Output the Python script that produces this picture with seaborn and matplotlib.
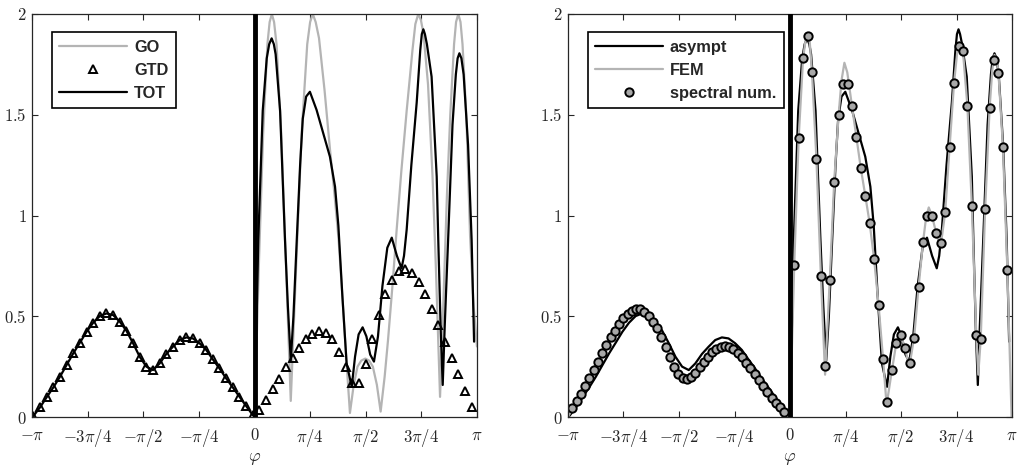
import numpy as np
import matplotlib
matplotlib.use("Agg")
import matplotlib.pyplot as plt
import seaborn as sns

sns.set_style("ticks")
plt.rcParams["mathtext.fontset"] = "cm"
plt.rcParams["font.family"] = ["DejaVu Serif"]

# all angles are given in units of pi
# ---- left panel: GO / GTD / TOT ----
gtd_neg_x = np.linspace(-0.994, -0.008, 34)
gtd_neg = [0.005, 0.048, 0.098, 0.147, 0.2, 0.258, 0.316, 0.369, 0.423, 0.468,
           0.501, 0.514, 0.506, 0.473, 0.428, 0.366, 0.299, 0.25, 0.233, 0.266,
           0.313, 0.349, 0.382, 0.395, 0.39, 0.366, 0.333, 0.286, 0.241, 0.192,
           0.147, 0.101, 0.055, 0.01]
gtd_pos_x = np.linspace(0.022, 0.976, 33)
gtd_pos = [0.035, 0.084, 0.137, 0.189, 0.247, 0.295, 0.344, 0.385, 0.412, 0.428,
           0.418, 0.385, 0.324, 0.25, 0.167, 0.167, 0.263, 0.386, 0.506, 0.61,
           0.68, 0.726, 0.733, 0.716, 0.672, 0.61, 0.534, 0.457, 0.374, 0.291,
           0.212, 0.129, 0.051]

go_x = [0.0, 0.02, 0.039, 0.058, 0.068, 0.078, 0.088, 0.099, 0.12, 0.141, 0.163,
        0.188, 0.212, 0.237, 0.25, 0.262, 0.275, 0.29, 0.315, 0.34, 0.36, 0.378,
        0.395, 0.412, 0.429,
        0.446, 0.463, 0.48, 0.498, 0.515, 0.532, 0.55, 0.567,
        0.585, 0.6, 0.62, 0.639, 0.66, 0.684, 0.71, 0.723, 0.736, 0.748,
        0.76, 0.78, 0.8, 0.815, 0.834,
        0.85, 0.865, 0.88, 0.897, 0.906, 0.916, 0.926,
        0.935, 0.952, 0.969, 0.985, 1.0]
go = [0.0, 0.77, 1.41, 1.85, 1.96, 2.0, 1.96, 1.85, 1.41, 0.77, 0.08,
      0.77, 1.41, 1.85, 1.96, 2.0, 1.96, 1.88, 1.62, 1.32, 1.1, 0.88,
      0.6, 0.3, 0.02,
      0.16, 0.25, 0.28, 0.29, 0.28, 0.25, 0.16, 0.027,
      0.2, 0.38, 0.65, 0.93, 1.22, 1.52, 1.82, 1.95, 2.0, 1.97,
      1.9, 1.65, 1.2, 0.75, 0.10,
      0.6, 1.1, 1.5, 1.85, 1.96, 2.0, 1.96,
      1.85, 1.5, 0.9, 0.55, 0.35]

tot_pos_x = [0.0, 0.017, 0.037, 0.055, 0.066, 0.077, 0.087, 0.095, 0.115, 0.137,
             0.15, 0.163, 0.175, 0.19, 0.205, 0.217, 0.232, 0.249, 0.279, 0.309,
             0.339, 0.362, 0.377, 0.395, 0.414, 0.437, 0.452, 0.468, 0.486, 0.503,
             0.52, 0.537, 0.555, 0.575, 0.597, 0.617, 0.64, 0.661, 0.672, 0.684,
             0.705, 0.729, 0.745, 0.752, 0.759, 0.766, 0.775, 0.796, 0.819, 0.826,
             0.837, 0.846, 0.855, 0.871, 0.89, 0.905, 0.913, 0.921, 0.93, 0.94,
             0.96, 0.976, 0.987]
tot_pos = [0.0, 0.88, 1.52, 1.78, 1.85, 1.879, 1.85, 1.8, 1.52, 0.88,
           0.55, 0.28, 0.5, 0.88, 1.25, 1.48, 1.59, 1.614, 1.524, 1.408,
           1.292, 1.143, 0.95, 0.6, 0.266, 0.15, 0.3, 0.41, 0.445, 0.4,
           0.31, 0.275, 0.4, 0.65, 0.84, 0.89, 0.8, 0.738, 0.8, 0.93,
           1.25, 1.56, 1.82, 1.9, 1.924, 1.9, 1.85, 1.689, 1.193, 0.878,
           0.43, 0.159, 0.45, 0.9, 1.45, 1.7, 1.78, 1.805, 1.78, 1.7,
           1.35, 0.878, 0.374]

# ---- right panel: spectral / FEM ----
spec_neg_x = np.linspace(-0.98, -0.026, 51)
spec_neg = [0.043, 0.081, 0.114, 0.154, 0.192, 0.233, 0.275, 0.316, 0.357, 0.395,
            0.428, 0.461, 0.49, 0.511, 0.528, 0.536, 0.534, 0.523, 0.501, 0.473,
            0.44, 0.399, 0.349, 0.296, 0.25, 0.213, 0.192, 0.187, 0.197, 0.22,
            0.247, 0.275, 0.3, 0.321, 0.337, 0.349, 0.352, 0.349, 0.337, 0.319,
            0.296, 0.27, 0.242, 0.213, 0.184, 0.154, 0.123, 0.093, 0.068, 0.048,
            0.026]
spec_pos_x = np.linspace(0.019, 0.979, 49)
spec_pos = [0.754, 1.384, 1.781, 1.892, 1.710, 1.281, 0.701, 0.252, 0.679, 1.168,
            1.50, 1.654, 1.654, 1.544, 1.389, 1.234, 1.099, 0.961, 0.782, 0.555,
            0.29, 0.075, 0.232, 0.368, 0.406, 0.34, 0.268, 0.394, 0.643, 0.867,
            0.998, 0.998, 0.911, 0.862, 1.016, 1.342, 1.66, 1.843, 1.814, 1.544,
            1.049, 0.409, 0.386, 1.032, 1.533, 1.773, 1.707, 1.342, 0.732]

fem_neg = [0.043, 0.081, 0.114, 0.154, 0.192, 0.233, 0.275, 0.316, 0.357, 0.395,
           0.428, 0.461, 0.49, 0.511, 0.528, 0.536, 0.534, 0.523, 0.501, 0.473,
           0.44, 0.399, 0.349, 0.296, 0.25, 0.21, 0.183, 0.168, 0.18, 0.21,
           0.245, 0.275, 0.3, 0.321, 0.337, 0.349, 0.352, 0.349, 0.337, 0.319,
           0.296, 0.27, 0.242, 0.213, 0.184, 0.154, 0.123, 0.093, 0.068, 0.048,
           0.026]
fem_pos_x = [0.0, 0.019, 0.039, 0.059, 0.07, 0.079, 0.089, 0.099, 0.119, 0.139,
             0.158, 0.179, 0.199, 0.219, 0.232, 0.245, 0.258, 0.279, 0.299, 0.319,
             0.339, 0.359, 0.379, 0.399, 0.419, 0.435, 0.449, 0.459, 0.479, 0.49,
             0.499, 0.519, 0.535, 0.545, 0.559, 0.579, 0.599, 0.613, 0.625, 0.639,
             0.659, 0.672, 0.685, 0.699, 0.719, 0.739, 0.755, 0.766, 0.779, 0.799,
             0.819, 0.839, 0.848, 0.859, 0.879, 0.899, 0.911, 0.921, 0.932, 0.939,
             0.959, 0.979, 0.998]
fem_pos = [0.0, 0.754, 1.384, 1.781, 1.87, 1.90, 1.86, 1.71, 1.281, 0.701,
           0.21, 0.679, 1.168, 1.50, 1.67, 1.758, 1.71, 1.544, 1.389, 1.234,
           1.099, 0.961, 0.782, 0.555, 0.29, 0.06, 0.16, 0.232, 0.368, 0.415,
           0.406, 0.34, 0.255, 0.3, 0.394, 0.643, 0.867, 0.99, 1.04, 1.0,
           0.911, 0.86, 0.9, 1.016, 1.342, 1.66, 1.83, 1.86, 1.814, 1.544,
           1.049, 0.409, 0.21, 0.386, 1.032, 1.533, 1.72, 1.797, 1.77, 1.707,
           1.342, 0.732, 0.0]

xticks = [-1, -0.75, -0.5, -0.25, 0, 0.25, 0.5, 0.75, 1]
xticklabels = [r"$-\pi$", r"$-3\pi/4$", r"$-\pi/2$", r"$-\pi/4$", r"$0$",
               r"$\pi/4$", r"$\pi/2$", r"$3\pi/4$", r"$\pi$"]
yticks = [0, 0.5, 1, 1.5, 2]
yticklabels = [r"$0$", r"$0.5$", r"$1$", r"$1.5$", r"$2$"]

GREY = "#b4b4b4"
pi = np.pi

fig = plt.figure(figsize=(10.17, 4.65), dpi=100)
ax1 = fig.add_axes([0.0315, 0.1032, 0.4375, 0.8667])
ax2 = fig.add_axes([0.5585, 0.1032, 0.4366, 0.8667])

# left
tot_x = np.concatenate([gtd_neg_x, tot_pos_x]) * pi
tot_y = np.concatenate([gtd_neg, tot_pos])
gtd_x = np.concatenate([gtd_neg_x, gtd_pos_x]) * pi
gtd_y = np.concatenate([gtd_neg, gtd_pos])
sns.lineplot(x=np.array(go_x) * pi, y=go, ax=ax1, color=GREY, linewidth=1.6,
             sort=False, estimator=None, label="GO")
sns.lineplot(x=gtd_x, y=gtd_y, ax=ax1, color="k", linestyle="none", marker="^",
             markersize=6, markerfacecolor="none", markeredgecolor="k",
             markeredgewidth=1.4, sort=False, estimator=None, label="GTD")
sns.lineplot(x=tot_x, y=tot_y, ax=ax1, color="k", linewidth=1.6,
             sort=False, estimator=None, label="TOT")

# right
fem_x = np.concatenate([[-1.0], spec_neg_x, [0.0], fem_pos_x]) * pi
fem_y = np.concatenate([[0.0], fem_neg, [0.0], fem_pos])
spec_x = np.concatenate([spec_neg_x, spec_pos_x]) * pi
spec_y = np.concatenate([spec_neg, spec_pos])
sns.lineplot(x=tot_x, y=tot_y, ax=ax2, color="k", linewidth=1.6,
             sort=False, estimator=None, label="asympt")
sns.lineplot(x=fem_x, y=fem_y, ax=ax2, color=GREY, linewidth=1.6,
             sort=False, estimator=None, label="FEM")
sns.lineplot(x=spec_x, y=spec_y, ax=ax2, color="k", linestyle="none", marker="o",
             markersize=6, markerfacecolor="#a8a8a8", markeredgecolor="k",
             markeredgewidth=1.4, sort=False, estimator=None, label="spectral num.")

for ax in (ax1, ax2):
    ax.axvline(0, color="k", linewidth=3.5, zorder=5)
    ax.set_xlim(-pi, pi)
    ax.set_ylim(0, 2)
    ax.set_xticks(np.array(xticks) * pi)
    ax.set_xticklabels(xticklabels)
    ax.set_yticks(yticks)
    ax.set_yticklabels(yticklabels, va="center_baseline")
    ax.tick_params(direction="in", top=True, right=True, length=4, width=0.8,
                   color="#262626", labelsize=12)
    ax.tick_params(axis="x", pad=7)
    ax.tick_params(axis="y", pad=4)
    for s in ax.spines.values():
        s.set_linewidth(0.9)
        s.set_color("#262626")
    ax.set_xlabel(r"$\varphi$", fontsize=13, labelpad=0)
    ax.set_ylabel("")
    leg = ax.legend(loc="upper left", bbox_to_anchor=(0.045, 0.955), borderaxespad=0,
                    fancybox=False, framealpha=1, edgecolor="k",
                    handlelength=4.15, handletextpad=0.4, labelspacing=0.5,
                    borderpad=0.45,
                    prop={"family": "Liberation Sans", "weight": "bold", "size": 11.8})
    leg.get_frame().set_linewidth(1.2)

fig.savefig("out.png", dpi=100)
